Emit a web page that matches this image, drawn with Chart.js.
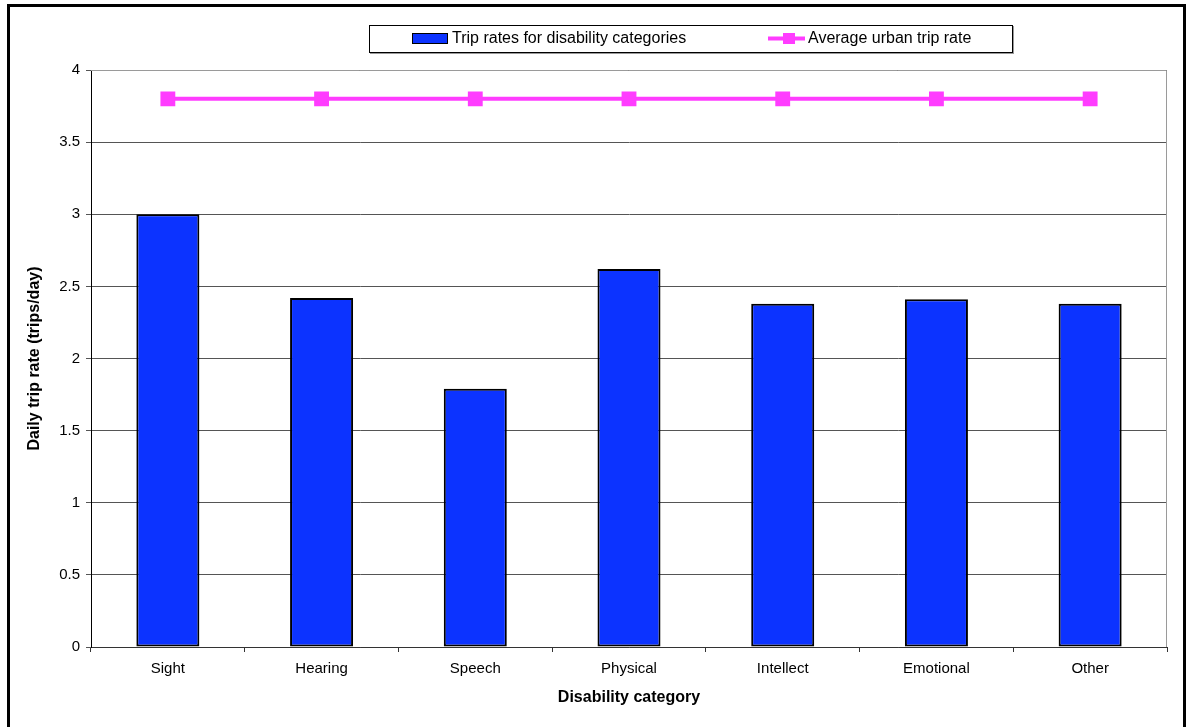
<!DOCTYPE html>
<html>
<head>
<meta charset="utf-8">
<script src="https://cdn.jsdelivr.net/npm/chart.js@4/dist/chart.umd.min.js"></script>
<style>
  html, body { margin: 0; padding: 0; background: #fff; }
  #wrap { width: 1193px; height: 727px; position: relative; }
</style>
</head>
<body>
<div id="wrap"><canvas id="trips" width="1193" height="727"></canvas></div>
<script>
const categories = ['Sight', 'Hearing', 'Speech', 'Physical', 'Intellect', 'Emotional', 'Other'];
const tripRates = [3.0, 2.42, 1.79, 2.62, 2.38, 2.41, 2.38];
const urbanAverage = [3.8, 3.8, 3.8, 3.8, 3.8, 3.8, 3.8];
const yTicks = [0, 0.5, 1, 1.5, 2, 2.5, 3, 3.5, 4];

const BAR_BLUE = '#0c33ff';
const PINK = '#ff3cff';
const FONT = 'Arial, "Liberation Sans", sans-serif';

// frame round the whole figure, plot-area border and the boxed legend
const decor = {
    id: 'decor',
    beforeDatasetsDraw(chart) {
        const ctx = chart.ctx, a = chart.chartArea;
        ctx.save();
        ctx.strokeStyle = '#9a9a9a';
        ctx.lineWidth = 1;
        ctx.beginPath();
        ctx.moveTo(a.left, a.top + 0.5);
        ctx.lineTo(a.right - 0.5, a.top + 0.5);
        ctx.lineTo(a.right - 0.5, a.bottom);
        ctx.stroke();
        ctx.restore();
    },
    afterDraw(chart) {
        const ctx = chart.ctx;
        ctx.save();
        // outer frame (open at the bottom)
        ctx.strokeStyle = '#000';
        ctx.lineWidth = 3;
        ctx.beginPath();
        ctx.moveTo(8.5, 740);
        ctx.lineTo(8.5, 5.5);
        ctx.lineTo(1184.5, 5.5);
        ctx.lineTo(1184.5, 740);
        ctx.stroke();

        // legend box
        ctx.lineWidth = 1;
        ctx.strokeStyle = '#000';
        ctx.fillStyle = '#fff';
        ctx.fillRect(369, 25, 644, 27);
        ctx.strokeRect(369.5, 25.5, 643, 27);
        ctx.fillStyle = '#999';
        ctx.fillRect(370, 53, 644, 1);
        ctx.fillRect(1013, 26, 1, 28);

        const ds = chart.data.datasets;
        const barSet = ds.find(d => d.type === 'bar');
        const lineSet = ds.find(d => d.type === 'line');
        ctx.font = '16px ' + FONT;
        ctx.textBaseline = 'middle';
        ctx.textAlign = 'left';

        ctx.fillStyle = BAR_BLUE;
        ctx.fillRect(412, 33, 36, 11);
        ctx.strokeStyle = '#000';
        ctx.strokeRect(412.5, 33.5, 35, 10);
        ctx.fillStyle = '#000';
        ctx.fillText(barSet.label, 452, 39);

        ctx.strokeStyle = PINK;
        ctx.lineWidth = 4;
        ctx.beginPath();
        ctx.moveTo(768, 38.5);
        ctx.lineTo(805, 38.5);
        ctx.stroke();
        ctx.fillStyle = PINK;
        ctx.fillRect(783, 33, 12, 11);
        ctx.fillStyle = '#000';
        ctx.fillText(lineSet.label, 808, 39);
        ctx.restore();
    }
};

new Chart(document.getElementById('trips').getContext('2d'), {
    data: {
        labels: categories,
        datasets: [{
            type: 'line',
            label: 'Average urban trip rate',
            data: urbanAverage,
            borderColor: PINK,
            backgroundColor: PINK,
            borderWidth: 4,
            pointStyle: 'rect',
            pointRadius: 10.5,
            pointBorderWidth: 0,
            pointHoverRadius: 10.5,
            order: 0
        }, {
            type: 'bar',
            label: 'Trip rates for disability categories',
            data: tripRates,
            backgroundColor: BAR_BLUE,
            borderColor: '#000',
            borderWidth: 2,
            borderSkipped: false,
            categoryPercentage: 1,
            barPercentage: 0.41,
            order: 1
        }]
    },
    options: {
        responsive: false,
        animation: false,
        layout: { padding: { left: 10, right: 26, top: 70, bottom: 10 } },
        plugins: {
            legend: { display: false },
            tooltip: { enabled: false }
        },
        scales: {
            x: {
                offset: true,
                grid: {
                    offset: true,
                    drawOnChartArea: false,
                    tickLength: 5,
                    color: '#333'
                },
                border: { color: '#333', width: 1 },
                ticks: { color: '#000', font: { family: FONT, size: 15 }, padding: 8, maxRotation: 0 },
                title: {
                    display: true,
                    text: 'Disability category',
                    color: '#000',
                    font: { family: FONT, size: 16, weight: 'bold' },
                    padding: { top: 4, bottom: 10 }
                },
                afterFit(scale) { scale.height = 70; }
            },
            y: {
                min: 0,
                max: 4,
                afterBuildTicks(scale) { scale.ticks = yTicks.map(v => ({ value: v })); },
                grid: { color: '#555', tickLength: 5 },
                border: { color: '#000', width: 1 },
                ticks: {
                    color: '#000',
                    font: { family: FONT, size: 15 },
                    padding: 6,
                    callback: v => String(v)
                },
                title: {
                    display: true,
                    text: 'Daily trip rate (trips/day)',
                    color: '#000',
                    font: { family: FONT, size: 16, weight: 'bold' },
                    padding: { top: 15, bottom: 4 }
                },
                afterFit(scale) { scale.width = 81; }
            }
        }
    },
    plugins: [decor]
});
</script>
</body>
</html>
